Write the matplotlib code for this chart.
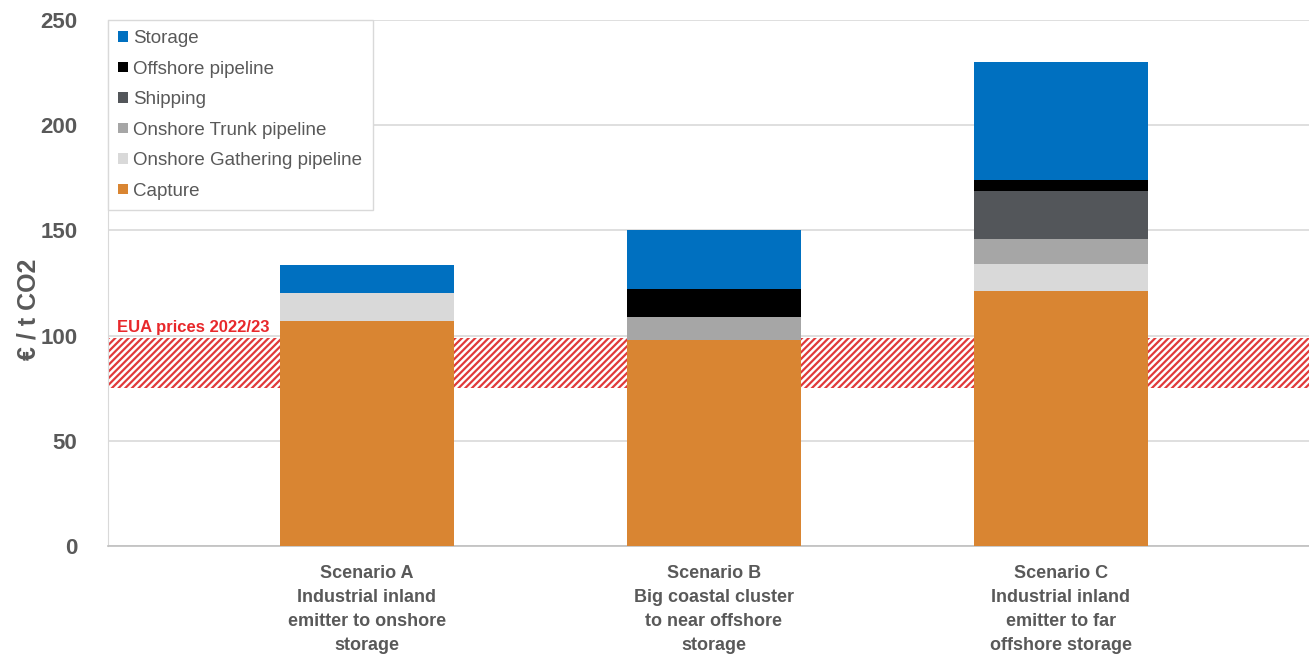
import matplotlib
matplotlib.use("Agg")
import matplotlib.pyplot as plt
import numpy as np

# values (EUR / t CO2)
scenarios = ["Scenario A\nIndustrial inland\nemitter to onshore\nstorage",
             "Scenario B\nBig coastal cluster\nto near offshore\nstorage",
             "Scenario C\nIndustrial inland\nemitter to far\noffshore storage"]
capture = [107, 98, 121]
gathering = [13, 0, 13]
trunk = [0, 11, 12]
shipping = [0, 0, 22.5]
offshore = [0, 13, 5.5]
storage = [13.5, 28, 56]

eua_low = 75
eua_high = 99

components = [
    ("Capture", capture, "#D98532"),
    ("Onshore Gathering pipeline", gathering, "#D9D9D9"),
    ("Onshore Trunk pipeline", trunk, "#A6A6A6"),
    ("Shipping", shipping, "#53565A"),
    ("Offshore pipeline", offshore, "#000000"),
    ("Storage", storage, "#0070C0"),
]

grey = "#595959"
plt.rcParams["font.family"] = ["Liberation Sans", "DejaVu Sans"]
plt.rcParams["hatch.linewidth"] = 1.6

fig = plt.figure(figsize=(13.09, 6.57), dpi=100)
ax = fig.add_axes([0.0825, 0.169, 0.9175, 0.8006])

x = np.arange(len(scenarios))
bottom = np.zeros(len(scenarios))
handles = []
for name, vals, col in components:
    h = ax.bar(x, vals, width=0.5, bottom=bottom, color=col, label=name, zorder=3)
    handles.append(h)
    bottom += np.array(vals)

# EUA price band
ax.axhspan(eua_low, eua_high, facecolor="white", edgecolor="#E03A3A",
           hatch="/////", linewidth=0, zorder=2)
ax.text(-0.72, eua_high + 1.5, "EUA prices 2022/23", color="#E8282B",
        fontsize=12, fontweight="bold", ha="left", va="bottom", zorder=4)

ax.set_ylim(0, 250)
ax.set_xlim(-0.746, 2.715)
ax.set_yticks(range(0, 251, 50))
ax.yaxis.grid(True, color="#D9D9D9", linewidth=1.2, zorder=0)
ax.set_axisbelow(True)
ax.tick_params(axis="both", length=0, colors=grey)
ax.tick_params(axis="y", pad=22)
for lab in ax.get_yticklabels():
    lab.set_fontsize(16)
    lab.set_fontweight("bold")

ax.set_xticks(x)
ax.set_xticklabels(scenarios, fontsize=13, fontweight="bold", color=grey,
                   linespacing=1.52)
ax.tick_params(axis="x", pad=14)

ax.set_ylabel("€ / t CO2", fontsize=18, fontweight="bold", color=grey)
ax.yaxis.set_label_coords(-0.056, 0.45)

for s in ["top", "right"]:
    ax.spines[s].set_visible(False)
ax.spines["left"].set_color("#D9D9D9")
ax.spines["bottom"].set_color("#BFBFBF")
ax.spines["bottom"].set_linewidth(1.2)

leg = ax.legend(handles[::-1], [c[0] for c in components][::-1],
                loc="upper left", bbox_to_anchor=(0, 1), borderaxespad=0,
                fontsize=13.5, frameon=True, fancybox=False, framealpha=1,
                edgecolor="#D9D9D9", handlelength=0.5, handleheight=0.5,
                handletextpad=0.3, labelspacing=0.72, borderpad=0.55)
leg.set_zorder(5)
for t in leg.get_texts():
    t.set_color(grey)

fig.savefig("out.png", dpi=100)
